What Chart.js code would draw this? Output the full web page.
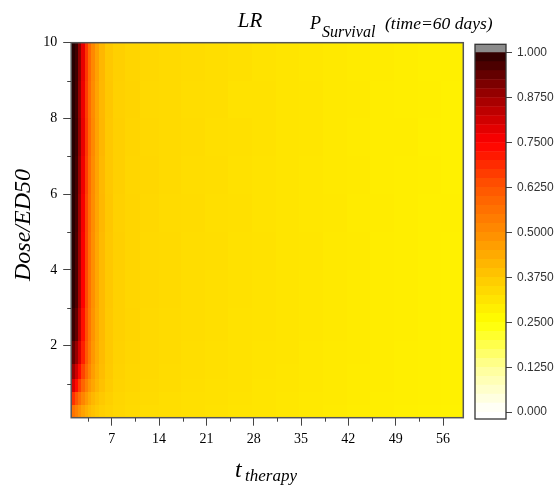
<!DOCTYPE html>
<html>
<head>
<meta charset="utf-8">
<title>LR P_Survival heatmap</title>
<script src="https://cdn.jsdelivr.net/npm/chart.js@4.4.1/dist/chart.umd.min.js"></script>
<style>
  body { margin: 0; background: #fff; }
  #wrap { position: relative; width: 556px; height: 487px; }
  #main { position: absolute; left: 0; top: 0; }
  #cbar { position: absolute; left: 466px; top: 0; }
</style>
</head>
<body>
<div id="wrap">
  <canvas id="main" width="556" height="487"></canvas>
  <canvas id="cbar" width="90" height="487"></canvas>
</div>
<script>
// therapy time (cell centres, days)
const tDays = [1.25, 1.75, 2.25, 2.75, 3.25, 3.75, 4.25, 4.75, 5.5, 6.5, 8, 10, 12.5,
  15.5, 19, 22.5, 26, 29.5, 33, 36.5, 40, 43.5, 47, 50.5, 54, 57.5];
// dose / ED50 (cell centres)
const doseLevels = [0.25, 0.6, 0.95, 1.3, 1.75, 2.5, 3.5, 4.5, 5.5, 6.5, 7.5, 8.5, 9.5];
// P survival at 60 days, one row per dose level (low dose first)
const pSurvival = [
  [0.560,0.525,0.490,0.455,0.428,0.405,0.388,0.373,0.360,0.349,0.340,0.334,0.328,0.324,0.320,0.316,0.312,0.308,0.304,0.300,0.296,0.292,0.288,0.285,0.282,0.280],
  [0.680,0.625,0.568,0.515,0.472,0.438,0.410,0.390,0.372,0.356,0.343,0.336,0.331,0.326,0.321,0.318,0.313,0.309,0.305,0.301,0.297,0.293,0.289,0.286,0.283,0.281],
  [0.800,0.735,0.660,0.588,0.528,0.480,0.445,0.415,0.390,0.366,0.348,0.340,0.334,0.329,0.323,0.319,0.315,0.310,0.306,0.302,0.297,0.294,0.290,0.286,0.283,0.281],
  [0.880,0.815,0.735,0.652,0.580,0.518,0.465,0.428,0.398,0.370,0.351,0.342,0.336,0.330,0.325,0.320,0.316,0.311,0.307,0.303,0.298,0.294,0.291,0.287,0.284,0.281],
  [0.940,0.885,0.800,0.705,0.615,0.540,0.478,0.436,0.402,0.372,0.353,0.344,0.337,0.331,0.326,0.321,0.316,0.312,0.308,0.303,0.298,0.295,0.291,0.287,0.284,0.282],
  [0.980,0.940,0.840,0.730,0.632,0.552,0.485,0.440,0.404,0.373,0.354,0.345,0.336,0.332,0.327,0.323,0.317,0.313,0.309,0.304,0.299,0.296,0.291,0.288,0.285,0.282],
  [0.995,0.960,0.860,0.750,0.643,0.560,0.492,0.443,0.405,0.375,0.355,0.343,0.338,0.333,0.328,0.322,0.319,0.314,0.308,0.305,0.301,0.295,0.292,0.288,0.284,0.282],
  [1.000,0.962,0.870,0.755,0.650,0.562,0.494,0.444,0.404,0.374,0.357,0.346,0.337,0.334,0.327,0.324,0.318,0.315,0.310,0.306,0.300,0.297,0.291,0.289,0.285,0.281],
  [1.000,0.968,0.872,0.760,0.652,0.565,0.497,0.448,0.408,0.377,0.354,0.345,0.339,0.332,0.329,0.323,0.320,0.314,0.309,0.305,0.302,0.296,0.293,0.288,0.284,0.283],
  [1.000,0.970,0.880,0.768,0.660,0.570,0.500,0.450,0.406,0.374,0.356,0.344,0.340,0.333,0.327,0.325,0.318,0.313,0.310,0.304,0.300,0.298,0.292,0.288,0.286,0.281],
  [1.000,0.975,0.888,0.778,0.668,0.578,0.506,0.452,0.410,0.376,0.357,0.346,0.338,0.334,0.330,0.323,0.320,0.315,0.309,0.306,0.301,0.296,0.292,0.290,0.285,0.282],
  [1.000,0.972,0.882,0.772,0.662,0.572,0.502,0.450,0.408,0.378,0.355,0.347,0.337,0.335,0.328,0.325,0.317,0.316,0.308,0.307,0.299,0.298,0.291,0.289,0.286,0.281],
  [1.000,0.975,0.890,0.780,0.670,0.580,0.508,0.456,0.410,0.376,0.356,0.345,0.339,0.333,0.329,0.324,0.320,0.314,0.310,0.305,0.301,0.296,0.293,0.288,0.285,0.283]
];
const xTicks = [7, 14, 21, 28, 35, 42, 49, 56];
const xMinor = [3.5, 10.5, 17.5, 24.5, 31.5, 38.5, 45.5, 52.5];
const yTicks = [2, 4, 6, 8, 10];
const yMinor = [1, 3, 5, 7, 9];
const cbTicks = [0, 0.125, 0.25, 0.375, 0.5, 0.625, 0.75, 0.875, 1];
const cbLabels = ['0.000', '0.1250', '0.2500', '0.3750', '0.5000', '0.6250', '0.7500', '0.8750', '1.000'];

const X_MIN = 1, X_MAX = 59, Y_MIN = 0.1, Y_MAX = 10;
const N_LEVELS = 40;

// colour map: white -> yellow -> orange -> red -> black
const stops = [
  [0, 255, 255, 255], [0.125, 255, 255, 150], [0.25, 255, 255, 0],
  [0.375, 255, 200, 0], [0.5, 255, 140, 0], [0.625, 255, 85, 0],
  [0.75, 255, 0, 0], [0.875, 160, 0, 0], [1, 40, 0, 0]
];
function cmap(v) {
  v = Math.max(0, Math.min(1, v));
  for (let i = 1; i < stops.length; i++) {
    if (v <= stops[i][0]) {
      const a = stops[i - 1], b = stops[i];
      const f = (v - a[0]) / (b[0] - a[0]);
      const c = [1, 2, 3].map(k => Math.round(a[k] + (b[k] - a[k]) * f));
      return 'rgb(' + c.join(',') + ')';
    }
  }
  return 'rgb(40,0,0)';
}
function edges(centres, lo, hi) {
  const e = [lo];
  for (let i = 1; i < centres.length; i++) e.push((centres[i - 1] + centres[i]) / 2);
  e.push(hi);
  return e;
}

const serif = '"Liberation Serif", "Times New Roman", serif';
const sans = '"Liberation Sans", Arial, sans-serif';

const heatmap = {
  id: 'heatmap',
  beforeDatasetsDraw(chart) {
    const {ctx, chartArea: a, scales: {x, y}} = chart;
    const xe = edges(tDays, X_MIN, X_MAX);
    const ye = edges(doseLevels, Y_MIN, Y_MAX);
    ctx.save();
    ctx.beginPath();
    ctx.rect(a.left, a.top, a.right - a.left, a.bottom - a.top);
    ctx.clip();
    for (let r = 0; r < doseLevels.length; r++) {
      const y0 = Math.round(y.getPixelForValue(ye[r + 1]));
      const y1 = Math.round(y.getPixelForValue(ye[r]));
      for (let c = 0; c < tDays.length; c++) {
        const x0 = Math.round(x.getPixelForValue(xe[c]));
        const x1 = Math.round(x.getPixelForValue(xe[c + 1]));
        ctx.fillStyle = cmap(pSurvival[r][c]);
        ctx.fillRect(x0, y0, x1 - x0, y1 - y0);
      }
    }
    ctx.restore();
  },
  afterDraw(chart) {
    const {ctx, chartArea: a, scales: {x, y}} = chart;
    ctx.save();
    // frame
    ctx.strokeStyle = '#555';
    ctx.lineWidth = 1.5;
    ctx.strokeRect(a.left, a.top, a.right - a.left, a.bottom - a.top);
    // minor ticks
    ctx.lineWidth = 1;
    ctx.strokeStyle = '#444';
    ctx.beginPath();
    xMinor.forEach(v => {
      const px = Math.round(x.getPixelForValue(v)) + 0.5;
      ctx.moveTo(px, a.bottom); ctx.lineTo(px, a.bottom + 4);
    });
    yMinor.forEach(v => {
      const py = Math.round(y.getPixelForValue(v)) + 0.5;
      ctx.moveTo(a.left, py); ctx.lineTo(a.left - 4, py);
    });
    ctx.stroke();
    // titles
    ctx.fillStyle = '#000';
    ctx.textBaseline = 'alphabetic';
    ctx.font = 'italic 21px ' + serif;
    ctx.textAlign = 'center';
    ctx.fillText('LR', 250, 27);
    ctx.textAlign = 'left';
    ctx.font = 'italic 18px ' + serif;
    ctx.fillText('P', 310, 29);
    ctx.font = 'italic 16px ' + serif;
    ctx.fillText('Survival', 322, 37);
    ctx.font = 'italic 17.5px ' + serif;
    ctx.fillText('(time=60 days)', 385, 29);
    // x title
    ctx.font = 'italic 24px ' + serif;
    ctx.fillText('t', 235, 477);
    ctx.font = 'italic 17px ' + serif;
    ctx.fillText('therapy', 245, 481);
    // y title
    ctx.translate(30, 225);
    ctx.rotate(-Math.PI / 2);
    ctx.textAlign = 'center';
    ctx.font = 'italic 24px ' + serif;
    ctx.fillText('Dose/ED50', 0, 0);
    ctx.restore();
  }
};

new Chart(document.getElementById('main'), {
  type: 'scatter',
  data: {
    datasets: [{
      data: [],
      pointRadius: 0
    }]
  },
  options: {
    responsive: false,
    animation: false,
    events: [],
    layout: { padding: { left: 0, top: 42.7, right: 92.7, bottom: 0 } },
    plugins: { legend: { display: false }, tooltip: { enabled: false }, title: { display: false } },
    scales: {
      x: {
        type: 'linear', min: X_MIN, max: X_MAX,
        afterBuildTicks: s => { s.ticks = xTicks.map(v => ({value: v})); },
        afterFit: s => { s.height = 69.3; },
        border: { display: false },
        grid: { drawOnChartArea: false, tickLength: 8, color: '#444', lineWidth: 1 },
        ticks: { font: { family: serif, size: 14 }, color: '#000', padding: 5, maxRotation: 0 }
      },
      y: {
        type: 'linear', min: Y_MIN, max: Y_MAX,
        afterBuildTicks: s => { s.ticks = yTicks.map(v => ({value: v})); },
        afterFit: s => { s.width = 71.2; },
        border: { display: false },
        grid: { drawOnChartArea: false, tickLength: 8, color: '#444', lineWidth: 1 },
        ticks: { font: { family: serif, size: 14 }, color: '#000', padding: 6 }
      }
    }
  },
  plugins: [heatmap]
});

// colour bar
const CB_MIN = -0.019, CB_MAX = 1.023;
const cbSets = [{ data: [[CB_MIN, 0]], backgroundColor: '#fff' }];
for (let i = 0; i < N_LEVELS; i++) {
  cbSets.push({ data: [[i / N_LEVELS, (i + 1) / N_LEVELS]], backgroundColor: cmap((i + 0.5) / N_LEVELS) });
}
cbSets.push({ data: [[1, CB_MAX]], backgroundColor: '#8c8c8c' });

const cbFrame = {
  id: 'cbFrame',
  afterDraw(chart) {
    const {ctx, chartArea: a} = chart;
    ctx.save();
    ctx.strokeStyle = '#333';
    ctx.lineWidth = 1.3;
    ctx.strokeRect(a.left, a.top, a.right - a.left, a.bottom - a.top);
    ctx.restore();
  }
};

new Chart(document.getElementById('cbar'), {
  type: 'bar',
  data: { labels: ['P'], datasets: cbSets },
  options: {
    responsive: false,
    animation: false,
    events: [],
    datasets: { bar: { grouped: false, barPercentage: 1, categoryPercentage: 1, borderWidth: 0 } },
    layout: { padding: { left: 9, top: 44.3, right: 0, bottom: 68 } },
    plugins: { legend: { display: false }, tooltip: { enabled: false } },
    scales: {
      x: { display: false },
      y: {
        position: 'right', min: CB_MIN, max: CB_MAX,
        afterBuildTicks: s => { s.ticks = cbTicks.map(v => ({value: v})); },
        afterFit: s => { s.width = 50; },
        border: { display: false },
        grid: { drawOnChartArea: false, tickLength: 6, color: '#444' },
        ticks: {
          font: { family: sans, size: 12 }, color: '#333', padding: 5,
          callback: (v) => cbLabels[cbTicks.indexOf(v)]
        }
      }
    }
  },
  plugins: [cbFrame]
});
</script>
</body>
</html>
